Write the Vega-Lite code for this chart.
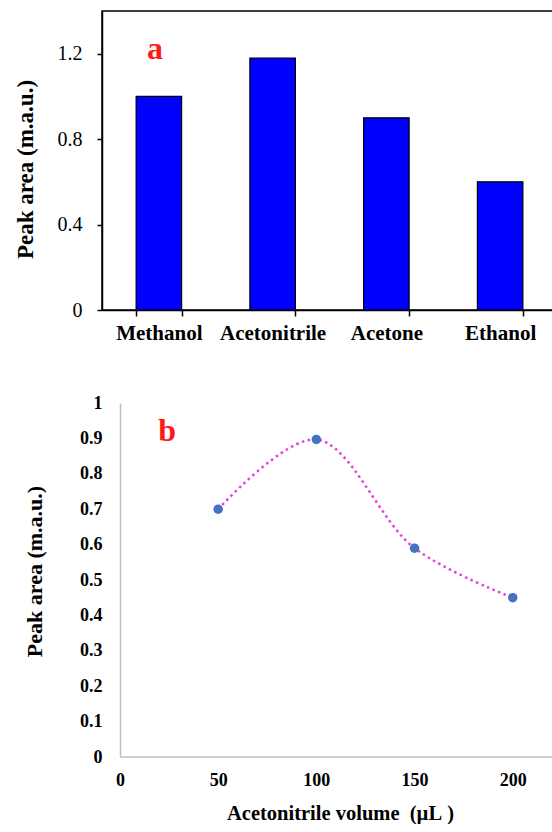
{
  "$schema": "https://vega.github.io/schema/vega-lite/v6.json",
  "padding": {"left": 13, "top": 10, "right": 0, "bottom": 0},
  "background": "white",
  "spacing": 50,
  "config": {"font": "Liberation Serif", "axis": {"grid": false, "labelColor": "black", "titleColor": "black"}},
  "datasets": {
    "solvents": [
      {"solvent": "Methanol", "area": 1.0},
      {"solvent": "Acetonitrile", "area": 1.18},
      {"solvent": "Acetone", "area": 0.9},
      {"solvent": "Ethanol", "area": 0.6}
    ],
    "volume": [
      {"volume": 50, "area": 0.70},
      {"volume": 100, "area": 0.897},
      {"volume": 150, "area": 0.59},
      {"volume": 200, "area": 0.45}
    ]
  },
  "vconcat": [
    {
      "width": 455,
      "height": 299,
      "view": {"stroke": "black", "strokeWidth": 1.5},
      "layer": [
        {
          "data": {"name": "solvents"},
          "mark": {"type": "bar", "color": "#0000FF", "stroke": "black", "strokeWidth": 1.2},
          "encoding": {
            "x": {"field": "solvent", "type": "nominal", "sort": null,
              "scale": {"paddingInner": 0.6, "paddingOuter": 0.3},
              "axis": {"title": null, "labelAngle": 0, "labelFont": "Liberation Serif", "labelFontWeight": "bold", "labelFontSize": 21,
                "labelPadding": 6, "tickBand": "extent", "tickColor": "black", "tickSize": 6, "tickWidth": 1.5,
                "domainColor": "black", "domainWidth": 1.5}},
            "y": {"field": "area", "type": "quantitative",
              "scale": {"domain": [0, 1.4], "nice": false},
              "axis": {"title": "Peak area (m.a.u.)", "values": [0, 0.4, 0.8, 1.2], "format": "~g",
                "labelFont": "Liberation Serif", "labelFontSize": 20, "labelPadding": 15,
                "tickColor": "black", "tickSize": 5, "tickWidth": 1.5, "domainColor": "black", "domainWidth": 1.5,
                "titleFont": "Liberation Serif", "titleFontWeight": "bold", "titleFontSize": 23, "titlePadding": 20, "titleY": 158}}
          }
        },
        {
          "data": {"values": [{"label": "a"}]},
          "mark": {"type": "text", "color": "#FF1A1A", "font": "Liberation Serif", "fontWeight": "bold", "fontSize": 32, "dx": -4},
          "encoding": {"x": {"datum": "Methanol"}, "y": {"datum": 1.22}, "text": {"field": "label"}}
        }
      ]
    },
    {
      "width": 450,
      "height": 354,
      "view": {"stroke": null},
      "encoding": {
        "x": {"type": "quantitative",
          "scale": {"domain": [-9.16, 220], "nice": false, "zero": false},
          "axis": {"title": "Acetonitrile volume\u00a0\u00a0(µL\u00a0)", "values": [0, 50, 100, 150, 200], "domain": false, "ticks": false,
            "labelFont": "Liberation Serif", "labelFontWeight": "bold", "labelFontSize": 18, "labelPadding": 14,
            "titleFont": "Liberation Serif", "titleFontWeight": "bold", "titleFontSize": 20.5, "titlePadding": 14, "titleX": 238}},
        "y": {"type": "quantitative",
          "scale": {"domain": [0, 1], "nice": false},
          "axis": {"title": "Peak area (m.a.u.)", "values": [0, 0.1, 0.2, 0.3, 0.4, 0.5, 0.6, 0.7, 0.8, 0.9, 1], "format": "~g",
            "labelOverlap": false, "tickCount": 11, "offset": -18, "ticks": false, "domainColor": "#BFBFBF", "domainWidth": 1.5,
            "labelFont": "Liberation Serif", "labelFontWeight": "bold", "labelFontSize": 18, "labelPadding": 18,
            "titleFont": "Liberation Serif", "titleFontWeight": "bold", "titleFontSize": 22, "titlePadding": 33, "titleY": 168}}
      },
      "layer": [
        {
          "data": {"name": "volume"},
          "mark": {"type": "line", "interpolate": "catmull-rom", "color": "#E83EDB", "strokeWidth": 2.5, "strokeDash": [2.5, 3.5]},
          "encoding": {"x": {"field": "volume"}, "y": {"field": "area"}}
        },
        {
          "data": {"values": [{"line": "x axis"}]},
          "mark": {"type": "rule", "color": "#BFBFBF", "strokeWidth": 1.5},
          "encoding": {"x": {"datum": 0}, "x2": {"datum": 220}, "y": {"datum": 0}}
        },
        {
          "data": {"name": "volume"},
          "mark": {"type": "point", "filled": true, "color": "#4472C4", "size": 90, "opacity": 1},
          "encoding": {"x": {"field": "volume"}, "y": {"field": "area"}}
        },
        {
          "data": {"values": [{"label": "b"}]},
          "mark": {"type": "text", "color": "#FF1A1A", "font": "Liberation Serif", "fontWeight": "bold", "fontSize": 32},
          "encoding": {"x": {"datum": 24}, "y": {"datum": 0.92}, "text": {"field": "label"}}
        }
      ]
    }
  ]
}
